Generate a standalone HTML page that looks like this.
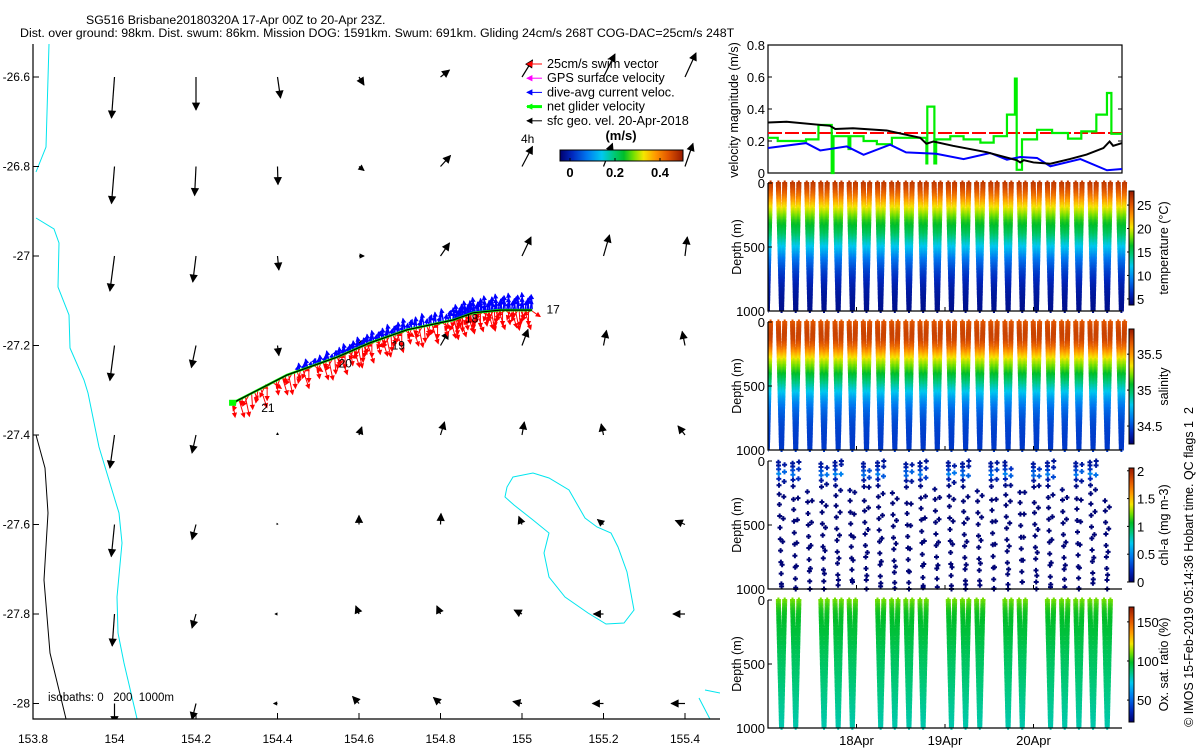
<!DOCTYPE html>
<html><head><meta charset="utf-8"><title>SG516 glider plot</title>
<style>
html,body{margin:0;padding:0;background:#fff;}
svg{display:block;font-family:"Liberation Sans",sans-serif;}
</style></head>
<body>
<svg id="chart" width="1200" height="750" viewBox="0 0 1200 750" xmlns="http://www.w3.org/2000/svg">
<defs>
<linearGradient id="jetH" x1="0" y1="0" x2="1" y2="0"></linearGradient>
<linearGradient id="jetV" x1="0" y1="1" x2="0" y2="0"></linearGradient>
</defs>
<text x="86" y="24" font-size="12.3">SG516 Brisbane20180320A 17-Apr 00Z to 20-Apr 23Z.</text>
<text x="20" y="37" font-size="12.4">Dist. over ground: 98km. Dist. swum: 86km. Mission DOG: 1591km. Swum: 691km. Gliding 24cm/s 268T COG-DAC=25cm/s 248T</text>
</svg>
<script>
// ---------- DATA ----------
const mapLonTicks=[153.8,154,154.2,154.4,154.6,154.8,155,155.2,155.4];
const mapLatTicks=[-26.6,-26.8,-27,-27.2,-27.4,-27.6,-27.8,-28];
const gridLons=[154,154.2,154.4,154.6,154.8,155,155.2,155.4];
const gridLats=[-26.6,-26.8,-27,-27.2,-27.4,-27.6,-27.8,-28];
const geoU=[
[-0.03,0,0.03,0.05,0.09,0.105,0.115,0.11],
[-0.03,-0.014,0.005,0.05,0.10,0.105,0.09,0.08],
[-0.046,-0.032,0.014,0.05,0.09,0.09,0.06,0.023],
[-0.046,-0.046,0.014,0.03,0.08,0.06,0.03,-0.028],
[-0.046,-0.04,0,0.028,0.04,0.023,-0.023,-0.07],
[-0.032,-0.04,-0.005,0,0.005,-0.032,-0.06,-0.096],
[-0.023,-0.04,-0.023,-0.032,-0.037,-0.078,-0.10,-0.12],
[0,-0.04,-0.037,-0.064,-0.07,-0.09,-0.11,-0.138]];
const geoV=[
[-0.41,-0.33,-0.21,-0.08,0.07,0.17,0.23,0.24],
[-0.37,-0.29,-0.18,-0.04,0.11,0.20,0.23,0.23],
[-0.35,-0.26,-0.14,0,0.13,0.19,0.21,0.19],
[-0.35,-0.22,-0.10,0.05,0.14,0.16,0.15,0.14],
[-0.33,-0.18,0.02,0.08,0.13,0.13,0.11,0.09],
[-0.32,-0.15,0.01,0.09,0.11,0.08,0.05,0.04],
[-0.32,-0.14,0,0.08,0.08,0.04,0,0],
[-0.20,-0.16,0,0.07,0.06,0.02,0,0]];
const trackLon=[154.291,154.423,154.546,154.627,154.718,154.831,154.880,154.946,155.025];
const trackLat=[-27.328,-27.266,-27.226,-27.194,-27.165,-27.143,-27.127,-27.121,-27.121];
const dayLabels=["21","20","19","18","17"];
const dayLabelLon=[154.36,154.55,154.68,154.86,155.06];
const dayLabelLat=[-27.34,-27.24,-27.2,-27.14,-27.12];
const blackT=[0,0.21,0.70,0.76,0.96,1.34,1.72,1.79,1.87,2.09,2.47,2.81,2.85,2.89,3.0,3.19,3.41,3.60,3.79,3.86,3.90,4.0];
const blackV=[0.316,0.32,0.295,0.275,0.28,0.266,0.22,0.183,0.197,0.17,0.13,0.08,0.066,0.08,0.066,0.058,0.087,0.115,0.156,0.197,0.17,0.187];
const blueT=[0,0.43,0.59,0.89,1.08,1.38,1.56,1.90,2.21,2.51,2.70,2.85,3.04,3.19,3.53,3.83,4.0];
const blueV=[0.156,0.187,0.141,0.166,0.114,0.177,0.129,0.12,0.087,0.125,0.083,0.1,0.094,0.042,0.087,0.017,0.025];
const greenT=[0,0.11,0.43,0.57,0.72,0.74,0.91,0.93,1.08,1.23,1.40,1.79,1.80,1.88,1.90,2.06,2.21,2.40,2.55,2.70,2.79,2.81,2.87,3.04,3.21,3.39,3.54,3.71,3.83,3.88];
const greenV=[0.22,0.20,0.21,0.30,0.0,0.23,0.15,0.23,0.20,0.18,0.22,0.06,0.415,0.06,0.21,0.23,0.21,0.19,0.23,0.365,0.59,0.02,0.21,0.27,0.25,0.215,0.26,0.365,0.50,0.245];
const swimSpeed=0.25;
const velTicks=[0,0.2,0.4,0.6,0.8];
const velTickLabels=["0","0.2","0.4","0.6","0.8"];
const dateTicks=[1,2,3];
const dateLabels=["18Apr","19Apr","20Apr"];
const depthTicks=[0,500,1000];
const diveTop=[0.117,0.277,0.437,0.597,0.757,0.917,1.077,1.237,1.397,1.557,1.717,1.877,2.037,2.197,2.357,2.517,2.677,2.837,2.997,3.157,3.317,3.477,3.637,3.797];
const profDepth=[0,50,100,150,200,250,300,350,400,450,500,550,600,650,700,750,800,850,900,950,1000];
const tempVal=[26.5,25.5,24,22,20,18.5,17,16,15,13.5,12,10.5,9,8,7,6.3,5.7,5.3,5,4.8,4.6];
const salVal=[35.65,35.7,35.72,35.7,35.6,35.45,35.3,35.2,35.1,35.0,34.9,34.8,34.7,34.62,34.56,34.52,34.49,34.47,34.46,34.45,34.45];
const chlProfDepth=[0,50,100,150,200,300,1000];
const chlProfVal=[0.1,0.15,0.5,0.12,0.05,0.02,0.02];
const chlSampleDepth=[10,35,65,100,140,190,260,340,430,520,610,700,790,880,960];
const chlShift=[0,40,-20,60,10,-30,50,20,-10,70,30,-40,15,55,-25,45,5,-15,65,25,-35,35,-5,50];
const oxProfDepth=[0,50,100,200,300,400,500,600,700,800,900,1000];
const oxVal=[110,104,100,97,95,92,90,88,86,84,82,80];
const oxDives=[1,1,0,1,1,1,0,1,1,1,1,0,1,1,1,0,1,1,0,1,1,1,1,1];
const tempTicks=[5,10,15,20,25], salTicks=[35.5,35,34.5], chlTicks=[0,0.5,1,1.5,2], oxTicks=[50,100,150];
const tempRange=[3.7,28.0], salRange=[34.25,35.85], chlRange=[0,2.05], oxRange=[22,169];

// ---------- HELPERS ----------
const NS='http://www.w3.org/2000/svg';
const svg=document.getElementById('chart');
function mk(tag,attrs,parent){const e=document.createElementNS(NS,tag);for(const k in attrs)e.setAttribute(k,attrs[k]);(parent||svg).appendChild(e);return e;}
function txt(s,attrs,parent){const e=mk('text',attrs,parent);e.textContent=s;return e;}
function interp(xs,ys,x){if(x<=xs[0])return ys[0];for(let i=1;i<xs.length;i++){if(x<=xs[i]){const f=(x-xs[i-1])/(xs[i]-xs[i-1]);return ys[i-1]+f*(ys[i]-ys[i-1]);}}return ys[ys.length-1];}
const cmStops=[0,0.1,0.22,0.34,0.44,0.52,0.6,0.68,0.78,0.88,1];
const cmCols=[[0,0,110],[0,40,190],[0,120,240],[0,200,240],[0,200,120],[0,190,40],[120,225,0],[245,230,0],[255,150,0],[225,85,0],[150,25,0]];
function jet(v){v=Math.max(0,Math.min(1,v));let i=1;while(i<cmStops.length-1&&v>cmStops[i])i++;const f=(v-cmStops[i-1])/(cmStops[i]-cmStops[i-1]);const a=cmCols[i-1],b=cmCols[i];return 'rgb('+[0,1,2].map(j=>Math.round(a[j]+f*(b[j]-a[j]))).join(',')+')';}
['jetH','jetV'].forEach(id=>{const g=document.getElementById(id);cmStops.forEach((s,i)=>mk('stop',{offset:s,'stop-color':'rgb('+cmCols[i].join(',')+')'},g));});

// ---------- MAP ----------
const X=lon=>33+(lon-153.8)*407.5;
const Y=lat=>77+(-26.6-lat)*447.5;
const mapG=mk('g',{});


const mcp=mk('clipPath',{id:'mapclip'});mk('rect',{x:33,y:44,width:687,height:675},mcp);
const clipG=mk('g',{'clip-path':'url(#mapclip)'},mapG);
const iso200=mk('polyline',{points:'49,44 46,147 36,172',fill:'none',stroke:'#00e5ee','stroke-width':1},clipG);


const iso200b=mk('polyline',{points:'36,218 54,229 59,243 58,287 69,315 70,348 84,380 88,393 99,447 112,490 119,513 122,543 117,597 118,633 124,663 138,723',fill:'none',stroke:'#00e5ee','stroke-width':1},clipG);


const iso0=mk('polyline',{points:'36,435 45,468 48,513 44,580 50,653 67,723',fill:'none',stroke:'#000','stroke-width':1},clipG);


const island=mk('polygon',{points:'513,477 533,473 549,478 569,490 585,518 597,527 611,533 618,547 627,572 634,610 624,623 606,624 588,613 565,597 549,577 544,553 549,533 533,520 514,505 505,497 507,487',fill:'none',stroke:'#00e5ee','stroke-width':1},clipG);


const iso3=mk('polyline',{points:'705,690 720,693',fill:'none',stroke:'#00e5ee'},clipG);


const iso4=mk('polyline',{points:'699,698 712,723',fill:'none',stroke:'#00e5ee'},clipG);



function arrow(parent,x1,y1,x2,y2,color,w,head){
  const g=mk('g',{},parent);
  mk('line',{x1:x1,y1:y1,x2:x2,y2:y2,stroke:color,'stroke-width':w},g);
  const dx=x2-x1,dy=y2-y1,L=Math.hypot(dx,dy)||1,ux=dx/L,uy=dy/L,h=Math.min(head,L*0.8);
  const bx=x2-ux*h,by=y2-uy*h,px=-uy*h*0.5,py=ux*h*0.5;
  mk('polygon',{points:x2+','+y2+' '+(bx+px)+','+(by+py)+' '+(bx-px)+','+(by-py),fill:color,stroke:color,'stroke-width':0.8},g);
  return g;
}
const geoG=mk('g',{},clipG);


for(let r=0;r<gridLats.length;r++)for(let c=0;c<gridLons.length;c++){
  const x0=X(gridLons[c]),y0=Y(gridLats[r]);
  const a=arrow(geoG,x0,y0,x0+geoU[r][c]*100,y0-geoV[r][c]*100,'#000',1.2,7);
  
  
}
const trackPts=trackLon.map((l,i)=>[X(l),Y(trackLat[i])]);
function trackAt(f){const n=trackPts.length-1,p=f*n,i=Math.min(n-1,Math.floor(p)),t=p-i;return [trackPts[i][0]+t*(trackPts[i+1][0]-trackPts[i][0]),trackPts[i][1]+t*(trackPts[i+1][1]-trackPts[i][1])];}
const swimG=mk('g',{},clipG);


const redDx=[2,-3,5,-1,4,-6,1,3,-2,6,-4,0,-7,8];
const redDy=[18,12,22,9,25,14,20,11,16,24,13,19,6,8];
for(let k=0;k<140;k++){const [x,y]=trackAt(k/139);const a=arrow(swimG,x,y+1,x+redDx[k%14],y+redDy[k%14]*0.8,'#ff0000',1,4);

}
const dacG=mk('g',{},clipG);


const blueDy=[-8,-12,-6,-10,-14,-7,-11,-9];
const blueDx=[1,-1,2,0,-2,1,3,-1];
for(let k=0;k<130;k++){const f=0.15+0.85*k/129;const [x,y]=trackAt(f);const s=0.4+0.8*f;const a=arrow(dacG,x,y-1,x+blueDx[k%8],y-1+blueDy[k%8]*s,'#0000ff',1.4,4);

}
const tline=mk('polyline',{points:trackPts.map(p=>p.join(',')).join(' '),fill:'none',stroke:'#00ff00','stroke-width':2.5},clipG);


const tline2=mk('polyline',{points:trackPts.map(p=>p.join(',')).join(' '),fill:'none',stroke:'#000','stroke-width':1.2},clipG);


const startM=mk('rect',{x:trackPts[0][0]-4,y:trackPts[0][1]-3,width:7,height:6,fill:'#00ff00'},clipG);


dayLabels.forEach((s,i)=>{const t=txt(s,{x:X(dayLabelLon[i]),y:Y(dayLabelLat[i])+4,'font-size':12},clipG);

});
const mAx=mk('path',{d:'M33,44V719H720',fill:'none',stroke:'#000','stroke-width':1.2},mapG);


mapLonTicks.forEach(v=>{const x=X(v);mk('line',{x1:x,y1:719,x2:x,y2:713,stroke:'#000'},mapG);
const t=txt(String(v),{x:x,y:743,'font-size':12,'text-anchor':'middle'},mapG);

});
mapLatTicks.forEach(v=>{const y=Y(v);mk('line',{x1:33,y1:y,x2:39,y2:y,stroke:'#000'},mapG);
const t=txt(String(v),{x:30,y:y+4,'font-size':12,'text-anchor':'end'},mapG);

});
const isoT=txt('isobaths: 0   200  1000m',{x:48,y:701,'font-size':11.5},mapG);
isoT.style.whiteSpace='pre';


const leg=mk('g',{},mapG);


const legLabels=['25cm/s swim vector','GPS surface velocity','dive-avg current veloc.','net glider velocity','sfc geo. vel. 20-Apr-2018'];
const legColors=['#ff0000','#ff00ff','#0000ff','#00ff00','#000000'];
legLabels.forEach((s,i)=>{const y=68+i*14.2;arrow(leg,542,y-4,527,y-4,legColors[i],i==3?3:1,5);
const t=txt(s,{x:547,y:y,'font-size':12.7},leg);

});
const fourH=txt('4h',{x:521,y:143,'font-size':12},mapG);


const cbt=txt('(m/s)',{x:621,y:140,'font-size':13,'font-weight':'bold','text-anchor':'middle'},mapG);


const cb=mk('rect',{x:560,y:150,width:123,height:11,fill:'url(#jetH)',stroke:'#000'},mapG);


[['0',570],['0.2',615],['0.4',660]].forEach(p=>{mk('line',{x1:p[1],y1:161,x2:p[1],y2:158,stroke:'#000'},mapG);
const t=txt(p[0],{x:p[1],y:177,'font-size':13,'font-weight':'bold','text-anchor':'middle'},mapG);

});

// ---------- RIGHT PANELS ----------
const L=768,R=1122;
const TX=t=>L+t*88.5;
const vTop=45,vBot=173;
const VY=v=>vBot-v*160;
const velG=mk('g',{});


const vbox=mk('rect',{x:L,y:vTop,width:R-L,height:vBot-vTop,fill:'none',stroke:'#000','stroke-width':1.2},velG);


velTicks.forEach((v,i)=>{const y=VY(v);mk('line',{x1:L,y1:y,x2:L+4,y2:y,stroke:'#000'},velG);mk('line',{x1:R,y1:y,x2:R-4,y2:y,stroke:'#000'},velG);
const t=txt(velTickLabels[i],{x:765,y:y+5,'font-size':13,'text-anchor':'end'},velG);

});
const vlab=txt('velocity magnitude (m/s)',{x:0,y:0,'font-size':12.5,'text-anchor':'middle',transform:'translate(738,110) rotate(-90)'},velG);


const swimL=mk('line',{x1:L,x2:R,y1:VY(swimSpeed),y2:VY(swimSpeed),stroke:'#ff0000','stroke-width':2,'stroke-dasharray':'14 3'},velG);


let gp='';greenT.forEach((t,i)=>{const x=TX(t),y=VY(greenV[i]);gp+=(i?'L'+x+','+VY(greenV[i-1])+'L':'M')+x+','+y;});gp+='L'+TX(4)+','+VY(greenV[greenV.length-1]);
const gl=mk('path',{d:gp,fill:'none',stroke:'#00ee00','stroke-width':2.2},velG);


const bl=mk('polyline',{points:blueT.map((t,i)=>TX(t)+','+VY(blueV[i])).join(' '),fill:'none',stroke:'#0000ff','stroke-width':2},velG);


const kl=mk('polyline',{points:blackT.map((t,i)=>TX(t)+','+VY(blackV[i])).join(' '),fill:'none',stroke:'#000','stroke-width':2},velG);



const panels=[
 {name:'temperature',top:183,bar:[191,305],range:tempRange,ticks:tempTicks,title:'temperature (°C)'},
 {name:'salinity',top:322,bar:[329,444],range:salRange,ticks:salTicks,title:'salinity'},
 {name:'chlorophyll',top:461,bar:[468,582],range:chlRange,ticks:chlTicks,title:'chl-a (mg m-3)'},
 {name:'oxygen',top:600,bar:[607,722],range:oxRange,ticks:oxTicks,title:'Ox. sat. ratio (%)'}];
const H=128, HW=0.036;
panels.forEach((p,pi)=>{
  const g=mk('g',{});
  
  
  const DY=d=>p.top+d/1000*H;
  const cl=mk('clipPath',{id:'clip'+pi},g);mk('rect',{x:L,y:p.top-6,width:R-L+8,height:H+12},cl);
  const sg=mk('g',{'clip-path':'url(#clip'+pi+')'},g);
  const bins=new Map();
  function add(t,d,val){const c=jet((val-p.range[0])/(p.range[1]-p.range[0]));const x=TX(t),y=DY(d);bins.set(c,(bins.get(c)||'')+'M'+(x-2.5).toFixed(1)+','+y.toFixed(1)+'h5M'+x.toFixed(1)+','+(y-2.5).toFixed(1)+'v5');}
  const tops=[diveTop[0]-0.16].concat(diveTop).concat([diveTop[23]+0.16]);
  if(pi<2){const vals=pi==0?tempVal:salVal;
    tops.forEach(t0=>{for(let d=0;d<=1000;d+=12){const v=interp(profDepth,vals,d);add(t0+d/1000*HW,d,v);add(t0+2*HW-d/1000*HW,d,v);}});
  } else if(pi==2){
    diveTop.forEach((t0,k)=>{chlSampleDepth.forEach((d0,j)=>{if(j<6 && k%3==2) return;
      const d=Math.max(0,Math.min(1000,d0+chlShift[k]*(j>5?1:0.2)));
      add(t0+d/1000*HW,d,interp(chlProfDepth,chlProfVal,d));
      if(j%2==0){const d2=Math.max(0,Math.min(1000,d+chlShift[(k+7)%24]));add(t0+2*HW-d2/1000*HW,d2,interp(chlProfDepth,chlProfVal,d2));}});});
  } else {
    diveTop.forEach((t0,k)=>{if(!oxDives[k])return;for(let d=0;d<=1000;d+=14){const v=interp(oxProfDepth,oxVal,d);add(t0+d/1000*HW,d,v);add(t0+2*HW-d/1000*HW,d,v);}});
  }
  bins.forEach((path,c)=>{const e=mk('path',{d:path,stroke:c,'stroke-width':2,fill:'none'},sg);
  
  });
  const ax=mk('path',{d:'M'+L+','+p.top+'V'+(p.top+H)+'H'+R,fill:'none',stroke:'#000','stroke-width':1.2},g);
  
  
  depthTicks.forEach(d=>{const y=DY(d);mk('line',{x1:L,y1:y,x2:L+4,y2:y,stroke:'#000'},g);
  const t=txt(String(d),{x:765,y:y+5,'font-size':13,'text-anchor':'end'},g);
  
  });
  dateTicks.forEach(t=>{mk('line',{x1:TX(t),y1:p.top+H,x2:TX(t),y2:p.top+H-4,stroke:'#000'},g);});
  const yl=txt('Depth (m)',{x:0,y:0,'font-size':12.5,'text-anchor':'middle',transform:'translate(741,'+(p.top+H/2)+') rotate(-90)'},g);
  
  
  const bar=mk('rect',{x:1129,y:p.bar[0],width:5,height:p.bar[1]-p.bar[0],fill:'url(#jetV)',stroke:'#000'},g);
  
  
  p.ticks.forEach(v=>{const y=p.bar[1]-(v-p.range[0])/(p.range[1]-p.range[0])*(p.bar[1]-p.bar[0]);mk('line',{x1:1129,y1:y,x2:1127,y2:y,stroke:'#000'},g);
  const t=txt(String(v),{x:1137,y:y+5,'font-size':13},g);
  
  });
  const ct=txt(p.title,{x:0,y:0,'font-size':12.5,'text-anchor':'middle',transform:'translate(1168,'+((p.bar[0]+p.bar[1])/2)+') rotate(-90)'},g);
  
  
});
dateLabels.forEach((s,i)=>{const t=txt(s,{x:TX(dateTicks[i]),y:745,'font-size':13,'text-anchor':'middle'});

});
const imos=txt('© IMOS 15-Feb-2019 05:14:36 Hobart time. QC flags 1  2',{x:0,y:0,'font-size':12.5,'text-anchor':'middle',transform:'translate(1193,567) rotate(-90)'});
imos.style.whiteSpace='pre';


</script>
</body></html>
